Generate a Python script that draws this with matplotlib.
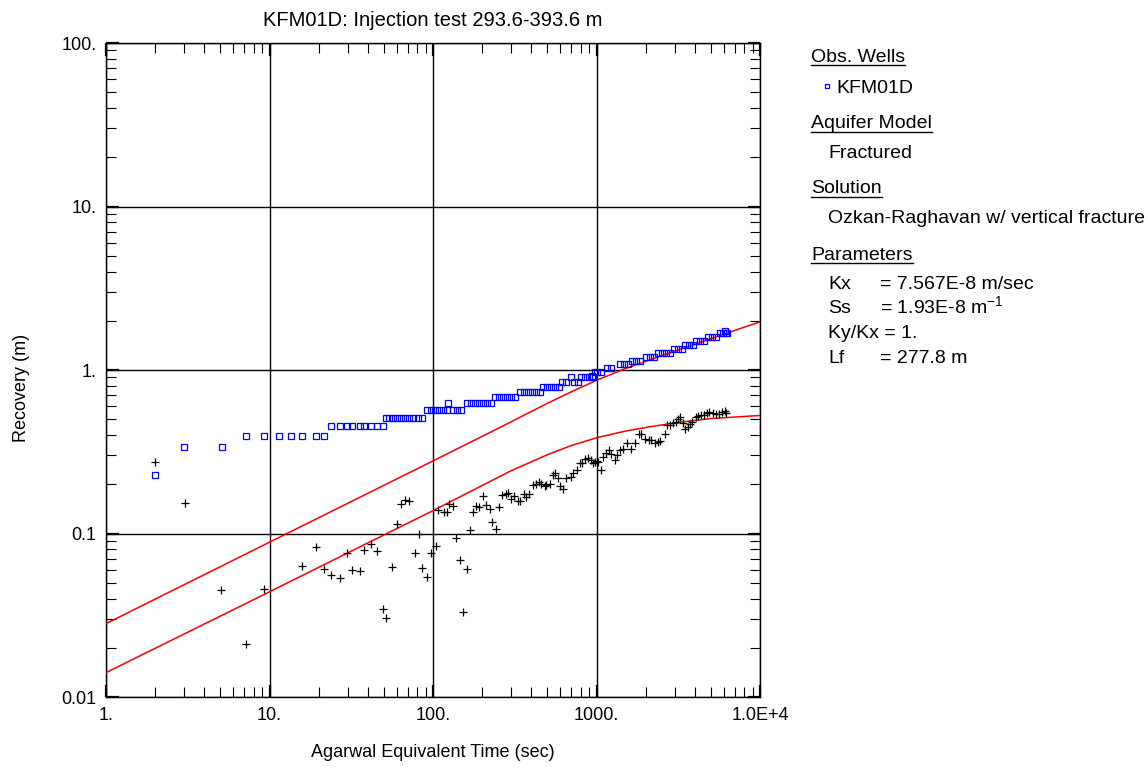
import matplotlib
matplotlib.use("Agg")
import matplotlib.pyplot as plt
from matplotlib.lines import Line2D
from matplotlib.ticker import LogLocator, NullFormatter, FixedLocator

plt.rcParams['font.family'] = ['Liberation Sans', 'DejaVu Sans']
plt.rcParams['mathtext.fontset'] = 'custom'
plt.rcParams['mathtext.rm'] = 'Liberation Sans'
plt.rcParams['mathtext.it'] = 'Liberation Sans:italic'

# Observed recovery at KFM01D (time s, recovery m)
obs_t = [2.0, 3.0, 5.1, 7.2, 9.2, 11.4, 13.6, 15.8, 19.2, 21.4,
         23.8, 27.1, 29.6, 32.1, 35.6, 38.0, 41.8, 45.2, 49.4,
         51.3, 54.0, 57.0, 60.6, 64.0, 67.8, 71.6, 75.8, 80.4, 85.5,
         92.0, 97.5, 103.3, 109.4, 115.9, 122.3, 124.0, 133.0, 140.0, 149.0,
         162, 171, 181, 192, 203, 214, 227,
         239, 253, 267, 283, 299, 316,
         340, 359, 380, 402, 426, 450,
         472, 500, 529, 559, 592,
         618, 654, 701, 731, 774,
         799, 846, 895, 933, 946, 977,
         1006, 1064, 1158, 1225,
         1385, 1465, 1550, 1657, 1753, 1855,
         1999, 2115, 2237, 2376, 2514, 2659, 2813,
         2976, 3149, 3331, 3499, 3701, 3916,
         4084, 4322, 4571, 4808, 5088, 5383,
         5675, 5945, 6100, 6176, 6290]
obs_v = [0.227, 0.34, 0.34, 0.396, 0.396, 0.396, 0.396, 0.396, 0.396, 0.396,
         0.454, 0.454, 0.454, 0.454, 0.454, 0.454, 0.454, 0.454, 0.454,
         0.51, 0.51, 0.51, 0.51, 0.51, 0.51, 0.51, 0.51, 0.51, 0.51,
         0.569, 0.569, 0.569, 0.569, 0.569, 0.569, 0.625, 0.569, 0.569, 0.569,
         0.625, 0.625, 0.625, 0.625, 0.625, 0.625, 0.625,
         0.684, 0.684, 0.684, 0.684, 0.684, 0.684,
         0.73, 0.73, 0.73, 0.73, 0.73, 0.73,
         0.79, 0.79, 0.79, 0.79, 0.79,
         0.848, 0.848, 0.91, 0.848, 0.848,
         0.91, 0.91, 0.91, 0.919, 0.91, 0.976,
         0.968, 0.968, 1.024, 1.024,
         1.088, 1.088, 1.088, 1.14, 1.14, 1.14,
         1.196, 1.196, 1.196, 1.265, 1.265, 1.265, 1.265,
         1.339, 1.339, 1.339, 1.422, 1.422, 1.422,
         1.512, 1.512, 1.512, 1.60, 1.60, 1.60,
         1.677, 1.677, 1.72, 1.677, 1.677]

# Recovery derivative (time s, derivative m)
deriv_t = [2.0, 3.05, 5.08, 7.17, 9.24, 15.9, 19.2, 21.4, 23.8, 27.1,
           29.6, 32.1, 35.8, 38.0, 42.0, 45.2, 49.4, 51.7, 56.2, 60.5,
           63.7, 67.3, 71.5, 77.2, 82.6, 86.2, 92.0, 97.3, 104, 108,
           117, 121, 126, 133, 139, 146, 152, 161, 168, 176,
           184, 192, 201, 212, 222, 231, 242, 254, 266, 279,
           287, 300, 315, 330, 341, 361, 370, 388, 407, 427,
           448, 459, 481, 493, 517, 542, 555, 581, 595, 624,
           654, 700, 723, 755, 792, 810, 850, 891, 932, 955,
           977, 1000, 1023, 1072, 1097, 1149, 1192, 1232, 1290, 1333,
           1396, 1450, 1532, 1622, 1730, 1815, 1876, 1985, 2091, 2164,
           2266, 2372, 2454, 2611, 2715, 2806, 2920, 3060, 3170, 3240,
           3370, 3490, 3610, 3720, 3850, 4040, 4180, 4350, 4560, 4750,
           4900, 5130, 5380, 5640, 5890, 6150, 6230]
deriv_v = [0.275, 0.153, 0.045, 0.0212, 0.0458, 0.0634, 0.0828, 0.0607, 0.0561, 0.0535,
           0.076, 0.060, 0.059, 0.0794, 0.086, 0.078, 0.0347, 0.0304, 0.062, 0.115,
           0.151, 0.160, 0.158, 0.076, 0.100, 0.0617, 0.054, 0.076, 0.0844, 0.140,
           0.135, 0.135, 0.151, 0.148, 0.0933, 0.0686, 0.0332, 0.0604, 0.105, 0.135,
           0.147, 0.145, 0.170, 0.149, 0.142, 0.117, 0.107, 0.145, 0.172, 0.174,
           0.176, 0.162, 0.169, 0.159, 0.159, 0.174, 0.168, 0.174, 0.198, 0.202,
           0.207, 0.202, 0.195, 0.198, 0.202, 0.228, 0.233, 0.217, 0.195, 0.188,
           0.217, 0.222, 0.233, 0.244, 0.268, 0.270, 0.284, 0.288, 0.281, 0.268,
           0.275, 0.277, 0.275, 0.244, 0.292, 0.309, 0.324, 0.306, 0.281, 0.302,
           0.324, 0.327, 0.356, 0.327, 0.359, 0.406, 0.404, 0.377, 0.373, 0.373,
           0.356, 0.364, 0.369, 0.404, 0.461, 0.461, 0.471, 0.479, 0.501, 0.513,
           0.471, 0.433, 0.449, 0.467, 0.482, 0.518, 0.523, 0.530, 0.530, 0.543,
           0.556, 0.543, 0.538, 0.538, 0.556, 0.563, 0.548]

# Ozkan-Raghavan type curve (recovery) and its derivative
model_t = [1, 10, 100, 243, 500, 700, 1000, 1500, 2000, 3000, 5000, 7520, 10000]
model_v = [0.0281, 0.0885, 0.278, 0.433, 0.625, 0.735, 0.865, 1.02, 1.13, 1.30, 1.55, 1.79, 1.97]
deriv_model_t = [1, 10, 30, 100, 300, 500, 700, 1000, 1500, 2000, 3000, 5000, 10000]
deriv_model_v = [0.0141, 0.044, 0.076, 0.138, 0.242, 0.303, 0.345, 0.385, 0.423, 0.445, 0.475, 0.505, 0.527]

x_ticks = [1, 10, 100, 1000, 10000]
x_ticklabels = ["1.", "10.", "100.", "1000.", "1.0E+4"]
y_ticks = [0.01, 0.1, 1, 10, 100]
y_ticklabels = ["0.01", "0.1", "1.", "10.", "100."]

W, H = 1148, 767
fig = plt.figure(figsize=(W / 100, H / 100), dpi=100)
ax = fig.add_axes([106 / W, 1 - 697 / H, 654 / W, 654 / H])
ax.set_xscale('log')
ax.set_yscale('log')
ax.set_xlim(1, 1e4)
ax.set_ylim(0.01, 100)
ax.set_axisbelow(True)

ax.plot(model_t, model_v, color='#ff0000', lw=1.1, zorder=3)
ax.plot(deriv_model_t, deriv_model_v, color='#ff0000', lw=1.1, zorder=3)
ax.plot(deriv_t, deriv_v, linestyle='none', marker='+', color='black',
        ms=6, mew=0.9, zorder=4)
ax.plot(obs_t, obs_v, linestyle='none', marker='s', mfc='none', mec='#0000ff',
        ms=3.8, mew=0.9, zorder=5)

ax.xaxis.set_major_locator(FixedLocator(x_ticks))
ax.set_xticklabels(x_ticklabels)
ax.yaxis.set_major_locator(FixedLocator(y_ticks))
ax.set_yticklabels(y_ticklabels)
for axis in (ax.xaxis, ax.yaxis):
    axis.set_minor_locator(LogLocator(base=10, subs=range(2, 10), numticks=20))
    axis.set_minor_formatter(NullFormatter())

ax.grid(which='major', color='black', lw=1.0)
ax.tick_params(which='both', direction='in', top=True, right=True, labelsize=13)
ax.tick_params(which='major', length=9, width=1.6, pad=7)
ax.tick_params(which='minor', length=7, width=0.8)
for sp in ax.spines.values():
    sp.set_linewidth(1.0)

def px(x, y):
    return x / W, 1 - y / H

fig.text(*px(433, 26), "KFM01D: Injection test 293.6-393.6 m", ha='center',
         va='baseline', fontsize=14.5)
fig.text(*px(433, 757), "Agarwal Equivalent Time (sec)", ha='center',
         va='baseline', fontsize=13)
fig.text(*px(22, 388), "Recovery (m)", ha='center', va='center',
         rotation=90, fontsize=13)

# Side panel
LS = 14
headers = [("Obs. Wells", 61.5), ("Aquifer Model", 128.3),
           ("Solution", 193.3), ("Parameters", 260)]
header_texts = []
for label, yb in headers:
    header_texts.append((fig.text(*px(811, yb), label, ha='left',
                                  va='baseline', fontsize=LS), yb))

fig.add_artist(Line2D([827.3 / W], [1 - 85.7 / H], marker='s', mfc='none',
                      mec='#0000ff', ms=3.2, mew=0.9, linestyle='none',
                      transform=fig.transFigure))
fig.text(*px(836.5, 92.7), "KFM01D", ha='left', va='baseline', fontsize=LS)
fig.text(*px(828, 158.3), "Fractured", ha='left', va='baseline', fontsize=LS)
fig.text(*px(828, 223.3), "Ozkan-Raghavan w/ vertical fracture", ha='left',
         va='baseline', fontsize=LS)

params = [("Kx", "= 7.567E-8 m/sec", 289.3),
          ("Ss", "= 1.93E-8 m$^{-1}$", 313.3),
          ("Lf", "= 277.8 m", 363.3)]
for name, val, yb in params:
    fig.text(*px(828, yb), name, ha='left', va='baseline', fontsize=LS)
    fig.text(*px(880, yb), val, ha='left', va='baseline', fontsize=LS)
fig.text(*px(828, 338.3), "Ky/Kx = 1.", ha='left', va='baseline', fontsize=LS)

fig.canvas.draw()
renderer = fig.canvas.get_renderer()
for t, yb in header_texts:
    bb = t.get_window_extent(renderer)
    yl = 1 - (yb + 3.5) / H
    fig.add_artist(Line2D([bb.x0 / W, bb.x1 / W], [yl, yl], color='black',
                          lw=1.0, transform=fig.transFigure))

fig.savefig("out.png", dpi=100)
